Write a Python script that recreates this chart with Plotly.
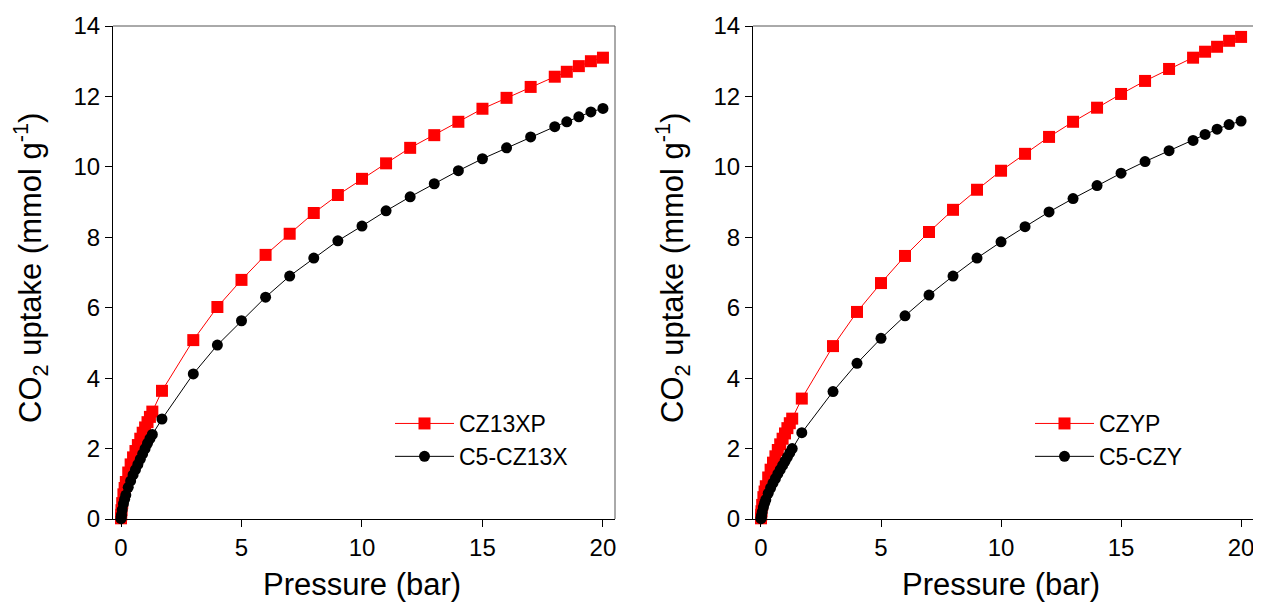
import plotly.graph_objects as go

# ---------------- data ----------------
p_low = [0.0, 0.01, 0.02, 0.05, 0.1, 0.15, 0.2, 0.3, 0.4, 0.5, 0.6, 0.7, 0.8, 0.9, 1.0, 1.1, 1.2, 1.3]
p_high = [1.7, 3, 4, 5, 6, 7, 8, 9, 10, 11, 12, 13, 14, 15, 16, 17, 18, 18.5, 19, 19.5, 20]
pressure = p_low + p_high

cz13xp = [0.02, 0.12, 0.25, 0.45, 0.7, 0.88, 1.05, 1.32, 1.55, 1.75, 1.93, 2.1, 2.28, 2.45, 2.6, 2.75, 2.9, 3.05,
          3.64, 5.08, 6.02, 6.79, 7.5, 8.1, 8.69, 9.2, 9.66, 10.1, 10.54, 10.9, 11.28, 11.65, 11.96, 12.27,
          12.56, 12.7, 12.86, 13.0, 13.1]
c5_cz13x = [0.01, 0.07, 0.12, 0.26, 0.43, 0.56, 0.68, 0.9, 1.08, 1.25, 1.4, 1.55, 1.7, 1.85, 2.0, 2.15, 2.28, 2.4,
            2.84, 4.12, 4.94, 5.63, 6.3, 6.9, 7.41, 7.9, 8.32, 8.75, 9.15, 9.52, 9.89, 10.23, 10.54, 10.85,
            11.14, 11.28, 11.42, 11.56, 11.66]

czyp = [0.02, 0.12, 0.22, 0.4, 0.62, 0.78, 0.93, 1.18, 1.4, 1.6, 1.78, 1.96, 2.12, 2.28, 2.43, 2.58, 2.72, 2.85,
        3.42, 4.91, 5.88, 6.7, 7.47, 8.15, 8.78, 9.35, 9.89, 10.37, 10.85, 11.28, 11.68, 12.07, 12.44, 12.78,
        13.1, 13.27, 13.41, 13.58, 13.69]
c5_czy = [0.01, 0.05, 0.1, 0.2, 0.34, 0.45, 0.55, 0.73, 0.88, 1.02, 1.15, 1.28, 1.4, 1.52, 1.64, 1.76, 1.88, 2.0,
          2.45, 3.62, 4.42, 5.13, 5.77, 6.36, 6.9, 7.41, 7.87, 8.3, 8.72, 9.1, 9.47, 9.82, 10.15, 10.46,
          10.75, 10.92, 11.07, 11.2, 11.3]

x_ticks = [0, 5, 10, 15, 20]
y_ticks = [0, 2, 4, 6, 8, 10, 12, 14]

FONT = "Liberation Sans, Arial, sans-serif"
OFF = 8                      # page body margin
W, H = 1261 - OFF, 605 - OFF  # figure size so that it fits in the window


def fx(px):  # screen x pixel -> paper fraction
    return (px - OFF) / W


def fy(py):  # screen y pixel -> paper fraction
    return 1 - (py - OFF) / H


fig = go.Figure()


def add_pair(xa, ya, red_y, black_y, red_name, black_name, legend):
    fig.add_trace(go.Scatter(x=pressure, y=red_y, name=red_name, mode="lines+markers",
                             line=dict(color="#ff0000", width=1),
                             marker=dict(symbol="square", size=12, color="#ff0000"),
                             xaxis=xa, yaxis=ya, legend=legend, cliponaxis=False))
    fig.add_trace(go.Scatter(x=pressure, y=black_y, name=black_name, mode="lines+markers",
                             line=dict(color="#000000", width=1),
                             marker=dict(symbol="circle", size=11, color="#000000"),
                             xaxis=xa, yaxis=ya, legend=legend, cliponaxis=False))


add_pair("x", "y", cz13xp, c5_cz13x, "CZ13XP", "C5-CZ13X", "legend")
add_pair("x2", "y2", czyp, c5_czy, "CZYP", "C5-CZY", "legend2")

yd = [fy(519), fy(26)]
dom_l = [fx(113), fx(615)]
dom_r = [fx(753), fx(1255)]

axis_common = dict(showgrid=False, zeroline=False, showline=True, linecolor="black", linewidth=1,
                   ticks="outside", ticklen=7, tickcolor="black", tickwidth=1, automargin=False,
                   tickfont=dict(family=FONT, size=24, color="black"))

fig.update_layout(
    width=W, height=H,
    margin=dict(l=0, r=0, t=0, b=0, pad=0, autoexpand=False),
    paper_bgcolor="white", plot_bgcolor="white",
    font=dict(family=FONT, color="black"),
    xaxis=dict(domain=dom_l, range=[-0.332, 20.5], tickvals=x_ticks, anchor="y", **axis_common),
    yaxis=dict(domain=yd, range=[0, 14], tickvals=y_ticks, anchor="x", **axis_common),
    xaxis2=dict(domain=dom_r, range=[-0.333, 20.58], tickvals=x_ticks, anchor="y2", **axis_common),
    yaxis2=dict(domain=yd, range=[0, 14], tickvals=y_ticks, anchor="x2", **axis_common),
    legend=dict(x=fx(390), y=fy(402), xanchor="left", yanchor="top", itemwidth=59,
                font=dict(family=FONT, size=23, color="black"), bgcolor="rgba(0,0,0,0)"),
    legend2=dict(x=fx(1030), y=fy(402), xanchor="left", yanchor="top", itemwidth=59,
                 font=dict(family=FONT, size=23, color="black"), bgcolor="rgba(0,0,0,0)"),
    showlegend=True,
)

# frame (top / right) lines
for xa, ya in [("x", "y"), ("x2", "y2")]:
    fig.add_shape(type="line", xref=f"{xa} domain", yref=f"{ya} domain", x0=0, x1=1, y0=1, y1=1,
                  line=dict(color="#555555", width=1))
    fig.add_shape(type="line", xref=f"{xa} domain", yref=f"{ya} domain", x0=1, x1=1, y0=0, y1=1,
                  line=dict(color="#555555", width=1))

ytitle = "CO<sub>2</sub> uptake (mmol g<sup>-1</sup>)"
for xpix in [30, 672]:
    fig.add_annotation(text=ytitle, x=fx(xpix), y=fy(268), xref="paper", yref="paper",
                       textangle=-90, showarrow=False, xanchor="center", yanchor="middle",
                       font=dict(family=FONT, size=31, color="black"))
for xpix in [362, 1001]:
    fig.add_annotation(text="Pressure (bar)", x=fx(xpix), y=fy(584), xref="paper", yref="paper",
                       showarrow=False, xanchor="center", yanchor="middle",
                       font=dict(family=FONT, size=31, color="black"))

fig.write_html("out.html")
